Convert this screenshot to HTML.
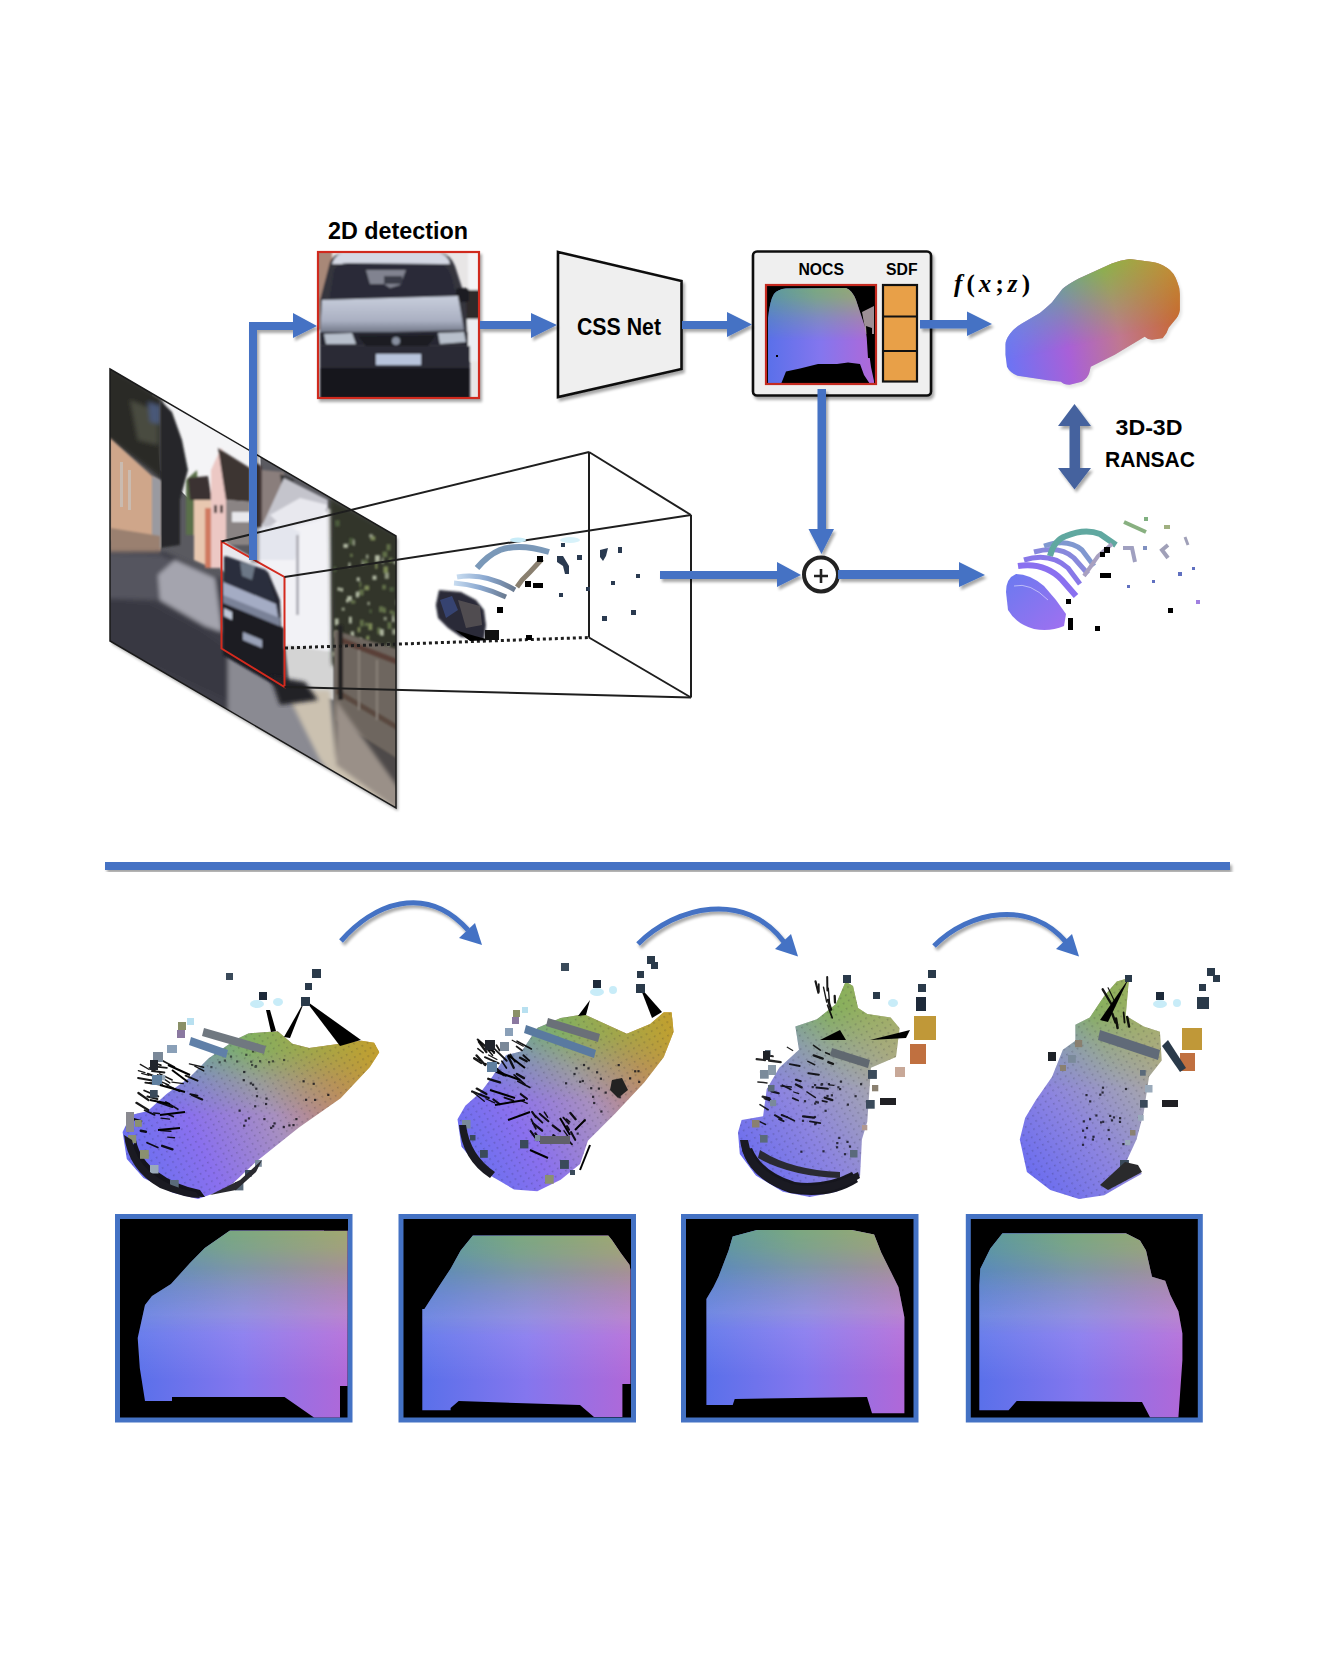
<!DOCTYPE html>
<html><head><meta charset="utf-8">
<style>
html,body{margin:0;padding:0;background:#fff;}
body{width:1336px;height:1670px;overflow:hidden;position:relative;}
svg{position:absolute;left:0;top:0;display:block;}
text{font-family:"Liberation Sans",sans-serif;font-weight:bold;fill:#000;}
</style></head><body>
<svg width="1336" height="1670" viewBox="0 0 1336 1670">
<defs>
  <filter id="sh" x="-20%" y="-20%" width="140%" height="140%">
    <feGaussianBlur in="SourceAlpha" stdDeviation="1.5"/>
    <feOffset dx="2" dy="3" result="b"/>
    <feComponentTransfer><feFuncA type="linear" slope="0.35"/></feComponentTransfer>
    <feMerge><feMergeNode/><feMergeNode in="SourceGraphic"/></feMerge>
  </filter>
  <filter id="blur1"><feGaussianBlur stdDeviation="1"/></filter>
  <filter id="blur2"><feGaussianBlur stdDeviation="2"/></filter>
</defs>


<!-- ===== STREET IMAGE ===== -->
<defs>
  <clipPath id="para"><polygon points="110,369 396,536 396,808 110,641"/></clipPath>
</defs>
<g filter="url(#sh)">
<polygon points="110,369 396,536 396,808 110,641" fill="#888"/>
</g>
<g clip-path="url(#para)">
  <rect x="100" y="360" width="300" height="460" fill="#5a5a60"/>
  <!-- sky -->
  <polygon points="150,375 260,440 262,520 230,520 190,500 160,470" fill="#f4f4f6"/>
  <g filter="url(#blur2)">
  <!-- top-left dark foliage -->
  <polygon points="100,360 162,398 162,480 150,470 110,440 100,440" fill="#2c2a28"/>
  <polygon points="130,400 158,412 158,445 138,440" fill="#4a4c40"/>
  <polygon points="148,402 160,406 160,424 150,422" fill="#4a5878"/>
  </g>
  <!-- tall dark tree -->
  <path d="M160,400 L172,412 L182,440 L188,470 L180,500 L180,545 L160,548 Z" fill="#26282a" filter="url(#blur1)"/>
  <!-- tan wall -->
  <polygon points="110,438 152,476 160,482 160,552 110,540" fill="#cfa68a" filter="url(#blur1)"/>
  <polygon points="152,476 161,480 161,548 152,548" fill="#9a9aa0" filter="url(#blur1)"/>
  <rect x="120" y="462" width="3" height="45" fill="#c8c4c0" opacity="0.7"/>
  <rect x="128" y="470" width="3" height="40" fill="#c8c4c0" opacity="0.7"/>
  <polygon points="110,528 160,536 160,556 110,556" fill="#9a8070" filter="url(#blur1)"/>
  <!-- small trees/house middle -->
  <g filter="url(#blur1)">
  <polygon points="186,480 197,470 200,535 186,535" fill="#5a7048"/>
  <polygon points="188,478 208,476 212,500 190,500" fill="#3a3230"/>
  <polygon points="194,500 212,500 212,568 194,560" fill="#e8c8b0"/>
  <rect x="205" y="508" width="7" height="60" fill="#d07a60"/>
  <!-- pink house -->
  <polygon points="211,470 221,448 226,455 226,568 211,568" fill="#ecc8c4"/>
  <polygon points="218,448 250,468 250,502 226,500" fill="#3c3432"/>
  <polygon points="226,500 250,502 250,545 226,545" fill="#8a8484"/>
  <rect x="232" y="512" width="18" height="10" fill="#e8e8ec"/>
  <rect x="214" y="505" width="3" height="8" fill="#3a3030"/>
  <rect x="220" y="505" width="3" height="8" fill="#3a3030"/>
  </g>
  <!-- white building right -->
  <g filter="url(#blur1)">
  <polygon points="255,470 332,510 332,665 255,640" fill="#f2f2f6"/>
  <polygon points="254,462 262,466 262,528 254,528" fill="#4a3e3c"/>
  <polygon points="262,470 284,472 284,520 262,524" fill="#8a7e7c"/>
  <polygon points="280,474 294,480 292,488 282,486" fill="#2a2a2c"/>
  <polygon points="284,478 328,500 328,512 300,505 268,528 262,526" fill="#c4c4cc"/>
  <polygon points="270,515 300,498 328,505 320,520 286,530" fill="#e8e8ee"/>
  <polygon points="257,528 285,524 300,532 295,560 258,560" fill="#e4e6ee"/>
  <rect x="296" y="535" width="3" height="80" fill="#b0b0b8"/>
  <polygon points="285,645 334,652 334,700 290,690" fill="#d4d4d4"/>
  </g>
  <!-- trees right -->
  <g filter="url(#blur2)">
  <polygon points="330,498 400,536 400,680 332,665" fill="#33362c"/>
  </g>
  <g opacity="0.85" filter="url(#blur1)"><rect x="347.2" y="596.0" width="4.7" height="4.9" fill="#c8d0b8"/><rect x="369.2" y="609.3" width="2.8" height="3.9" fill="#506040"/><rect x="395.7" y="599.7" width="3.4" height="5.6" fill="#a0a890"/><rect x="341.6" y="607.6" width="3.2" height="3.1" fill="#a0a890"/><rect x="381.7" y="557.8" width="2.1" height="6.1" fill="#a0a890"/><rect x="384.7" y="572.4" width="4.2" height="6.5" fill="#a0a890"/><rect x="377.7" y="650.2" width="4.2" height="5.3" fill="#506040"/><rect x="393.7" y="560.5" width="2.3" height="3.5" fill="#c8d0b8"/><rect x="345.9" y="655.1" width="4.3" height="6.4" fill="#506040"/><rect x="359.0" y="637.7" width="3.1" height="5.3" fill="#a0a890"/><rect x="369.4" y="647.7" width="4.6" height="7.0" fill="#6a7a50"/><rect x="375.0" y="555.2" width="4.9" height="6.6" fill="#c8d0b8"/><rect x="368.4" y="623.1" width="3.9" height="7.0" fill="#8a9a60"/><rect x="349.1" y="537.9" width="4.6" height="7.0" fill="#506040"/><rect x="337.7" y="630.9" width="4.7" height="3.1" fill="#506040"/><rect x="359.3" y="581.7" width="2.1" height="5.5" fill="#6a7a50"/><rect x="334.9" y="618.5" width="3.7" height="6.7" fill="#c8d0b8"/><rect x="349.9" y="553.7" width="2.9" height="3.3" fill="#6a7a50"/><rect x="370.4" y="536.2" width="4.9" height="4.2" fill="#8a9a60"/><rect x="348.9" y="616.7" width="2.9" height="6.8" fill="#c8d0b8"/><rect x="389.4" y="587.0" width="4.6" height="4.5" fill="#506040"/><rect x="387.5" y="622.2" width="3.9" height="6.8" fill="#6a7a50"/><rect x="364.4" y="585.5" width="4.8" height="4.7" fill="#8a9a60"/><rect x="348.5" y="562.6" width="2.0" height="4.7" fill="#c8d0b8"/><rect x="369.1" y="534.1" width="3.8" height="3.5" fill="#a0a890"/><rect x="372.5" y="575.5" width="4.0" height="4.4" fill="#c8d0b8"/><rect x="377.2" y="627.5" width="3.8" height="6.8" fill="#6a7a50"/><rect x="333.4" y="566.5" width="2.9" height="5.4" fill="#506040"/><rect x="343.4" y="543.8" width="4.5" height="4.1" fill="#c8d0b8"/><rect x="382.4" y="551.5" width="4.9" height="5.7" fill="#6a7a50"/><rect x="340.4" y="587.9" width="2.7" height="3.7" fill="#c8d0b8"/><rect x="359.9" y="619.7" width="3.8" height="6.8" fill="#6a7a50"/><rect x="375.2" y="562.9" width="2.2" height="6.0" fill="#8a9a60"/><rect x="346.0" y="599.0" width="2.7" height="3.5" fill="#c8d0b8"/><rect x="365.9" y="554.6" width="2.6" height="4.1" fill="#a0a890"/><rect x="383.7" y="616.9" width="3.0" height="3.5" fill="#a0a890"/><rect x="350.7" y="631.4" width="3.4" height="5.5" fill="#c8d0b8"/><rect x="350.6" y="600.1" width="4.8" height="3.6" fill="#6a7a50"/><rect x="332.3" y="651.6" width="5.0" height="4.7" fill="#a0a890"/><rect x="392.8" y="651.6" width="2.1" height="4.8" fill="#8a9a60"/><rect x="380.2" y="629.2" width="3.6" height="6.6" fill="#c8d0b8"/><rect x="387.1" y="643.2" width="2.4" height="4.0" fill="#c8d0b8"/><rect x="334.2" y="630.9" width="4.8" height="6.6" fill="#a0a890"/><rect x="389.6" y="610.4" width="3.4" height="3.5" fill="#6a7a50"/><rect x="364.2" y="560.2" width="3.6" height="4.7" fill="#6a7a50"/><rect x="392.1" y="615.1" width="2.4" height="6.9" fill="#c8d0b8"/><rect x="366.6" y="635.5" width="3.1" height="3.8" fill="#6a7a50"/><rect x="366.2" y="636.2" width="2.7" height="4.1" fill="#8a9a60"/><rect x="388.9" y="557.5" width="3.5" height="5.3" fill="#6a7a50"/><rect x="357.6" y="627.2" width="2.8" height="5.1" fill="#8a9a60"/><rect x="359.1" y="589.4" width="4.6" height="6.1" fill="#6a7a50"/><rect x="335.0" y="520.1" width="4.9" height="6.4" fill="#506040"/><rect x="337.5" y="587.4" width="2.5" height="3.3" fill="#c8d0b8"/><rect x="356.7" y="577.4" width="3.1" height="3.8" fill="#c8d0b8"/><rect x="353.0" y="539.7" width="2.0" height="5.9" fill="#a0a890"/><rect x="382.9" y="607.6" width="3.1" height="5.4" fill="#6a7a50"/><rect x="382.1" y="584.8" width="3.9" height="4.7" fill="#6a7a50"/><rect x="355.8" y="591.6" width="3.3" height="5.8" fill="#c8d0b8"/><rect x="361.5" y="559.8" width="2.8" height="5.4" fill="#a0a890"/><rect x="383.4" y="566.4" width="4.6" height="6.7" fill="#8a9a60"/><rect x="356.0" y="646.1" width="2.4" height="5.8" fill="#c8d0b8"/><rect x="392.1" y="628.9" width="4.4" height="5.7" fill="#a0a890"/><rect x="379.0" y="606.3" width="4.4" height="5.9" fill="#6a7a50"/><rect x="362.3" y="559.0" width="2.1" height="3.4" fill="#506040"/><rect x="338.4" y="642.6" width="4.5" height="4.4" fill="#8a9a60"/><rect x="386.5" y="544.1" width="4.0" height="6.3" fill="#6a7a50"/><rect x="393.0" y="611.4" width="2.1" height="6.1" fill="#6a7a50"/><rect x="364.7" y="622.7" width="3.7" height="3.4" fill="#6a7a50"/><rect x="367.4" y="601.8" width="2.5" height="3.3" fill="#a0a890"/><rect x="395.9" y="619.7" width="3.8" height="6.0" fill="#506040"/></g>
  <!-- fence -->
  <g filter="url(#blur1)">
  <polygon points="334,630 400,650 400,808 334,760" fill="#6e665e"/>
  <polygon points="338,636 400,660 400,666 338,642" fill="#5a4038"/>
  <polygon points="336,688 400,726 400,732 336,694" fill="#5a4a40"/>
  <polygon points="336,720 400,760 400,808 336,770" fill="#4e4a48"/>
  <rect x="338" y="625" width="5" height="75" fill="#222"/>
  <rect x="358" y="650" width="2" height="60" fill="#888078"/>
  <rect x="376" y="660" width="2" height="60" fill="#888078"/>
  </g>
  <!-- road -->
  <g filter="url(#blur2)">
  <polygon points="100,552 165,552 220,578 230,600 250,660 290,700 340,760 380,812 100,650" fill="#3c3c46"/>
  <polygon points="100,553 160,555 200,572 215,580 160,600 100,598" fill="#55555e"/>
  <polygon points="158,575 175,560 215,578 222,632 205,626 160,600" fill="#a4a4ae"/>
  <polygon points="228,655 284,690 320,740 360,812 270,812 228,760" fill="#8a8a92"/>
  <polygon points="100,600 150,604 200,630 228,650 228,700 100,640" fill="#383842"/>
  </g>
  <!-- sidewalk -->
  <g filter="url(#blur2)">
  <polygon points="285,690 330,690 336,760 400,808 360,812 320,760 296,712" fill="#cbc1b0"/>
  <polygon points="336,700 336,765 400,812 400,790" fill="#9a9088"/>
  </g>
  <!-- car -->
  <polygon points="221,540 285,576 285,600 221,570" fill="#e8e8ee" filter="url(#blur1)"/>
  <g filter="url(#blur1)">
  <polygon points="224,556 268,572 280,600 284,690 224,655" fill="#262832"/>
  <polygon points="226,556 266,570 276,602 225,584" fill="#2a2e3c"/>
  <polygon points="240,562 255,566 252,580 242,576" fill="#9aa8b8" opacity="0.6"/>
  <polygon points="223,582 276,604 280,628 223,603" fill="#a4acc4"/>
  <polygon points="223,595 280,618 280,628 223,603" fill="#7a8298"/>
  <polygon points="223,603 284,628 284,690 223,655" fill="#1a1a24"/>
  <polygon points="243,632 262,640 262,648 243,640" fill="#9aa2b8"/>
  <polygon points="224,608 232,612 232,620 224,616" fill="#c0c8d8"/>
  </g>
  <polygon points="270,676 305,682 318,700 280,705" fill="#202028" filter="url(#blur2)"/>
</g>
<polygon points="110,369 396,536 396,808 110,641" fill="none" stroke="#1a1a1a" stroke-width="1.5"/>
<!-- red box on street -->
<polygon points="221.5,541.5 284.5,577 284.5,687 221.5,648.5" fill="none" stroke="#d42a1e" stroke-width="2"/>
<!-- frustum lines -->
<g stroke="#1e1e1e" stroke-width="2" fill="none">
  <line x1="221.5" y1="541.5" x2="589" y2="452"/>
  <line x1="284.5" y1="577" x2="691" y2="515"/>
  <line x1="284.5" y1="687" x2="691" y2="697.5"/>
  <line x1="589" y1="452" x2="691" y2="515"/>
  <line x1="589" y1="452" x2="589" y2="637.5"/>
  <line x1="691" y1="515" x2="691" y2="697.5"/>
  <line x1="589" y1="637.5" x2="691" y2="697.5"/>
  <line x1="285" y1="648" x2="589" y2="637.5" stroke-dasharray="3,3" stroke-width="3"/>
</g>

<!-- ===== TOP DIAGRAM ===== -->

<!-- ===== point cloud in 3D box ===== -->
<g id="pcbox">
  <defs>
    <linearGradient id="arcg" x1="0" y1="0" x2="1" y2="0">
      <stop offset="0" stop-color="#c8dcf0"/><stop offset="0.5" stop-color="#8aa8d0"/><stop offset="1" stop-color="#6a7a90"/>
    </linearGradient>
  </defs>
  <!-- dark car chunk -->
  <path d="M439,590 L461,592 L476,600 L484,610 L486,625 L484,640 L461,637 L448,628 L438,618 L435.8,605 Z" fill="#2a2c38" filter="url(#blur1)"/>
  <path d="M440,600 L452,596 L458,610 L446,618 Z" fill="#3a4a80" opacity="0.8"/>
  <path d="M458,600 L480,606 L482,625 L466,628 Z" fill="#6a6460" opacity="0.6"/>
  <path d="M455,630 L475,636 L490,640 L470,641 Z" fill="#000"/>
  <rect x="485" y="630" width="14" height="10" fill="#111"/>
  <!-- arcs -->
  <g fill="none" stroke="url(#arcg)" stroke-width="5">
    <path d="M454,583 Q480,585 506,597"/>
    <path d="M457,577 Q485,572 515,590"/>
  </g>
  <path d="M477,568 Q488,555 500,550 Q520,543 549,552" fill="none" stroke="#7a98b8" stroke-width="6"/>
  <path d="M542,559 L530,572 L522,580 L517,587" fill="none" stroke="#8a8070" stroke-width="5"/>
  <ellipse cx="518" cy="540" rx="8" ry="2.5" fill="#c8ecf8"/>
  <ellipse cx="570" cy="540" rx="10" ry="3" fill="#d8f2fa"/>
  <g fill="#000">
    <rect x="537" y="556" width="6" height="6"/>
    <rect x="525" y="581" width="6" height="6"/>
    <rect x="533" y="583" width="10" height="5"/>
    <rect x="497" y="607" width="6" height="6"/>
    <rect x="526" y="635" width="6" height="5"/>
  </g>
  <g fill="#2a3a50">
    <rect x="561" y="543" width="4" height="4"/>
    <rect x="577" y="555" width="5" height="5"/>
    <path d="M557,556 L563,556 L569,566 L569,574 L565,574 L563,566 L557,562 Z"/>
    <rect x="559" y="593" width="4" height="4"/>
    <path d="M600,550 L608,548 L606,556 L603,561 L600,557 Z"/>
    <rect x="618" y="547" width="4" height="6"/>
    <rect x="611" y="581" width="4" height="4"/>
    <rect x="636" y="574" width="4" height="4"/>
    <rect x="586" y="587" width="4" height="4"/>
    <rect x="602" y="616" width="5" height="5"/>
    <rect x="631" y="610" width="5" height="5"/>
  </g>
</g>
<!-- ===== right point cloud ===== -->
<defs>
  <linearGradient id="pcr" x1="0" y1="1" x2="1" y2="0">
    <stop offset="0" stop-color="#8058f0"/><stop offset="0.4" stop-color="#7a90d8"/><stop offset="0.7" stop-color="#60a8a0"/><stop offset="1" stop-color="#80b070"/>
  </linearGradient>
</defs>
<g id="pcright" fill="none" stroke-linecap="butt">
  <path d="M1006,592 Q1006,578 1016,574 Q1030,574 1044,586 L1056,600 L1066,614 L1064,626 Q1050,632 1034,629 Q1016,624 1008,610 Z" fill="url(#pcblob)" stroke="none"/>
  <path d="M1018,566 Q1045,562 1062,580 L1076,596" stroke="#8a70f0" stroke-width="6"/>
  <path d="M1024,560 Q1050,552 1068,568 L1080,584" stroke="#8878e8" stroke-width="5"/>
  <path d="M1034,552 Q1060,545 1074,558 L1088,574" stroke="#8888dc" stroke-width="5"/>
  <path d="M1044,546 Q1068,538 1082,550 L1094,566" stroke="#8098d0" stroke-width="5"/>
  <path d="M1050,556 Q1054,540 1066,536 Q1085,528 1100,534 L1116,545" stroke="#60a8a0" stroke-width="6"/>
  <path d="M1084,576 L1098,556 L1112,544" stroke="#a8a0c0" stroke-width="4"/>
  <path d="M1124,522 L1146,532" stroke="#88b080" stroke-width="4"/>
  <path d="M1123,548 L1132,548 L1135,562" stroke="#a0a0c0" stroke-width="4"/>
  <path d="M1168,545 L1162,550 L1168,558" stroke="#a0a0b8" stroke-width="4"/>
  <path d="M1185,537 L1188,545" stroke="#a0a0b8" stroke-width="3"/>
</g>
<defs>
  <linearGradient id="pcblob" x1="0" y1="0" x2="1" y2="1">
    <stop offset="0" stop-color="#6a7af0"/><stop offset="1" stop-color="#a070f0"/>
  </linearGradient>
</defs>
<g stroke="#fff" stroke-width="1" opacity="0.5" fill="none">
  <path d="M1014,586 Q1030,582 1048,600"/>
</g>
<g>
  <rect x="1144" y="517" width="4" height="4" fill="#80b080"/>
  <rect x="1164" y="525" width="6" height="4" fill="#a0b080"/>
  <rect x="1104" y="547" width="6" height="6" fill="#000"/>
  <rect x="1100" y="552" width="5" height="5" fill="#000"/>
  <rect x="1100" y="573" width="6" height="5" fill="#000"/>
  <rect x="1102" y="573" width="9" height="5" fill="#000"/>
  <rect x="1066" y="599" width="5" height="5" fill="#000"/>
  <rect x="1068" y="618" width="5" height="12" fill="#000"/>
  <rect x="1095" y="626" width="5" height="5" fill="#000"/>
  <rect x="1168" y="608" width="5" height="5" fill="#000"/>
  <rect x="1143" y="546" width="4" height="4" fill="#8090c0"/>
  <rect x="1178" y="572" width="4" height="4" fill="#6070c0"/>
  <rect x="1152" y="580" width="3" height="3" fill="#6070c0"/>
  <rect x="1127" y="585" width="3" height="3" fill="#6070c0"/>
  <rect x="1192" y="567" width="3" height="3" fill="#6070c0"/>
  <rect x="1196" y="600" width="4" height="4" fill="#a080e0"/>
</g>


<!-- 2D detection text -->
<text x="328" y="239" font-size="23" textLength="140" lengthAdjust="spacingAndGlyphs">2D detection</text>
<!-- detection image -->
<defs><clipPath id="detc"><rect x="318" y="252" width="161" height="146"/></clipPath>
<linearGradient id="hoodg" x1="0" y1="0" x2="0" y2="1"><stop offset="0" stop-color="#c8cedc"/><stop offset="0.65" stop-color="#aab0c2"/><stop offset="1" stop-color="#6a7080"/></linearGradient>
</defs>
<g filter="url(#sh)"><rect x="317" y="251" width="163" height="148" fill="#c02a20"/></g>
<g clip-path="url(#detc)">
  <rect x="318" y="252" width="161" height="146" fill="#e8e6e6"/>
  <g filter="url(#blur1)">
  <rect x="316" y="250" width="16" height="80" fill="#a88878"/>
  <rect x="466" y="289" width="14" height="30" fill="#2e2a2c"/><rect x="466" y="319" width="14" height="42" fill="#eceef2"/>
  <rect x="468" y="250" width="12" height="40" fill="#f4f4f6"/>
  <!-- car body silhouette -->
  <path d="M320,398 L320,300 L330,262 Q334,253 345,253 L440,253 Q450,254 455,266 L466,300 L470,398 Z" fill="#34363e"/>
  <!-- roof strip -->
  <path d="M332,264 Q336,252 348,252 L436,252 Q448,254 450,264 Z" fill="#d4d8e4"/>
  <!-- windshield -->
  <path d="M329,301 L334,270 Q338,263 348,263 L440,264 Q448,265 452,278 L457,299 Z" fill="#2a2c38"/>
  <path d="M366,270 L370,284 L384,284 L390,288 L400,285 L406,270 Z" fill="#c8ccd8" opacity="0.55"/><rect x="384" y="276" width="18" height="8" fill="#3a3c48"/>
  <rect x="456" y="288" width="13" height="14" rx="3" fill="#1e1e24"/>
  <!-- hood -->
  <path d="M322,300 L458,296 L464,330 L320,334 Z" fill="url(#hoodg)"/>
  <!-- headlights row -->
  <rect x="320" y="332" width="148" height="13" fill="#262830"/>
  <path d="M324,334 L352,333 L356,344 L326,344 Z" fill="#b8c0cc"/>
  <path d="M438,333 L464,332 L466,342 L440,344 Z" fill="#b8c0cc"/>
  <path d="M358,336 L436,335 L428,346 L366,346 Z" fill="#1a1c22"/>
  <circle cx="396" cy="341" r="4" fill="#8890a0"/>
  <!-- lower -->
  <rect x="320" y="346" width="150" height="22" fill="#2a2c34"/>
  <rect x="376" y="354" width="45" height="11" fill="#b8c4dc"/>
  <rect x="320" y="368" width="150" height="32" fill="#14141a"/>
  </g>
</g>
<rect x="318" y="252" width="161" height="146" fill="none" stroke="#d02a1e" stroke-width="2.2"/>

<!-- CSS Net -->
<g filter="url(#sh)">
<polygon points="558,252 681.5,281 681.5,369 558,397" fill="#efefef" stroke="#111" stroke-width="2.6" stroke-linejoin="miter"/>
</g>
<text x="577" y="334.5" font-size="23" textLength="84" lengthAdjust="spacingAndGlyphs">CSS Net</text>

<!-- NOCS box -->
<defs>
  <linearGradient id="nocsV" x1="0" y1="0" x2="0" y2="1">
    <stop offset="0" stop-color="#8fb080"/><stop offset="0.5" stop-color="#7f80e0"/><stop offset="1" stop-color="#7060e8"/>
  </linearGradient>
  <linearGradient id="nocsH" x1="0" y1="0" x2="1" y2="0">
    <stop offset="0" stop-color="#5070e0" stop-opacity="0.5"/><stop offset="0.5" stop-color="#8080e0" stop-opacity="0"/><stop offset="1" stop-color="#c070c0" stop-opacity="0.5"/>
  </linearGradient>
</defs>
<g filter="url(#sh)">
<rect x="753" y="251.5" width="178" height="144" rx="4" fill="#efefef" stroke="#111" stroke-width="2.6"/>
</g>
<text x="798.5" y="274.5" font-size="16" textLength="45.5" lengthAdjust="spacingAndGlyphs">NOCS</text>
<text x="886" y="274.5" font-size="16" textLength="31.5" lengthAdjust="spacingAndGlyphs">SDF</text>
<g>
  <rect x="766" y="285" width="110" height="99" fill="#000"/>
  <defs><path id="nocsp" d="M768,384 L768,318 Q770,300 774,294 Q778,289 786,288.5 L846,288 Q852,290 856,300 L860,312 L866,330 L868,345 L871,367 L874,381 L874,384 L870,384 L864,375 L860,364 L848,362.5 L837,364 L818,364 L800,368.5 L786,371.5 L781,384 Z"/></defs>
  <use href="#nocsp" fill="url(#nV)"/>
  <use href="#nocsp" fill="url(#nH)" mask="url(#nmask)"/>
  <path d="M862,312 L874,306 L874,334 L866,334 Z" fill="#b8a8b0" opacity="0.85"/>
  <path d="M866,326 L872,328 L872,358 L868,358 Z" fill="#000"/>
  <rect x="776" y="355" width="2" height="2" fill="#000"/>
  <rect x="766" y="285" width="110" height="99" fill="none" stroke="#c42a20" stroke-width="2.2"/>
</g>
<g stroke="#111" stroke-width="2.2">
  <rect x="883" y="285" width="34" height="96.5" fill="#e8a048"/>
  <line x1="883" y1="316.5" x2="917" y2="316.5"/>
  <line x1="883" y1="351" x2="917" y2="351"/>
</g>

<!-- f(x;z) -->
<text x="954" y="292" font-size="25" style="font-family:'Liberation Serif',serif;font-weight:bold" textLength="76" lengthAdjust="spacing"><tspan font-style="italic">f</tspan><tspan>(</tspan><tspan font-style="italic">x</tspan><tspan>;</tspan><tspan font-style="italic">z</tspan><tspan>)</tspan></text>

<!-- car model -->
<defs>
  <linearGradient id="vfade" x1="0" y1="0" x2="0" y2="1">
    <stop offset="0" stop-color="#fff"/><stop offset="1" stop-color="#000"/>
  </linearGradient>
  <mask id="mcar" maskUnits="userSpaceOnUse" x="995" y="250" width="200" height="145">
    <rect x="995" y="250" width="200" height="145" fill="url(#carfade)"/>
  </mask>
  <linearGradient id="carfade" gradientUnits="userSpaceOnUse" x1="1100" y1="262" x2="1120" y2="350">
    <stop offset="0" stop-color="#fff"/><stop offset="0.3" stop-color="#aaa"/><stop offset="0.85" stop-color="#000"/>
  </linearGradient>
  <linearGradient id="carBot" gradientUnits="userSpaceOnUse" x1="1005" y1="350" x2="1180" y2="320">
    <stop offset="0" stop-color="#6c74f4"/><stop offset="0.35" stop-color="#a860d8"/><stop offset="0.65" stop-color="#c07890"/><stop offset="1" stop-color="#c86830"/>
  </linearGradient>
  <linearGradient id="carTop" gradientUnits="userSpaceOnUse" x1="1010" y1="330" x2="1180" y2="280">
    <stop offset="0" stop-color="#6890e0"/><stop offset="0.3" stop-color="#60a898"/><stop offset="0.6" stop-color="#88b448"/><stop offset="1" stop-color="#c09838"/>
  </linearGradient>
  <path id="carp" d="M1005.5,354.8 L1007,366.8 Q1010,373 1017.5,375.7 L1047.4,380.2 L1060.9,381.7 Q1064,385 1069.9,384.7 L1081.8,381.7 Q1088,378 1089.3,372.8 L1090.8,366.8 L1114.8,354.8 L1144.7,336.8 Q1148,340 1152.2,339.8 L1162.7,338.3 Q1167,334 1168.7,327.8 L1174.6,320.4 Q1179,316 1179.9,309.9 L1179.9,294.9 Q1180,288 1177.6,282.9 Q1174,272 1167.2,268 Q1160,263 1152.2,262 L1129.7,259 Q1120,260 1111.8,263.5 L1078.8,278.4 Q1068,284 1062.4,288.9 L1051.9,302.4 Q1046,308 1039.9,312.9 L1021.9,323.4 Q1014,328 1010,333.8 Q1005.5,340 1005.5,344.3 Z"/>
</defs>
<g filter="url(#sh)"><use href="#carp" fill="#888" opacity="0.3"/></g>
<use href="#carp" fill="url(#carBot)"/>
<use href="#carp" fill="url(#carTop)" mask="url(#mcar)"/>
<!-- double arrow -->
<path fill="#44629e" filter="url(#sh)" d="M1074.5,404 L1091,426 L1080,426 L1080,468 L1091,468 L1074.5,489.5 L1058,468 L1069.5,468 L1069.5,426 L1058,426 Z"/>
<text x="1115.5" y="435" font-size="22" textLength="67" lengthAdjust="spacingAndGlyphs">3D-3D</text>
<text x="1105" y="466.5" font-size="22" textLength="90" lengthAdjust="spacingAndGlyphs">RANSAC</text>

<!-- plus circle -->
<circle cx="821" cy="574.5" r="17" fill="#fff" stroke="#222" stroke-width="4"/>
<path d="M814,576 L828,576 M821,569 L821,583" stroke="#222" stroke-width="2.6"/>

<g id="arrows" fill="#4472C4" filter="url(#sh)">
  <!-- vertical line from street image to detection -->
  <path d="M249,560 L249,322 L293,322 L293,313 L317,326 L293,338 L293,330 L257,330 L257,560 Z"/>
  <!-- detection -> CSS -->
  <path d="M480,321 L531,321 L531,313 L557,325 L531,338 L531,329 L480,329 Z"/>
  <!-- CSS -> NOCS -->
  <path d="M682,321 L727,321 L727,312 L752,324.5 L727,337 L727,329 L682,329 Z"/>
  <!-- NOCS -> car -->
  <path d="M920,320 L967,320 L967,311.5 L992,324 L967,336 L967,328.5 L920,328.5 Z"/>
  <!-- down from NOCS -->
  <path d="M817.5,389 L826,389 L826,529 L834,529 L821.5,554 L808.5,529 L817.5,529 Z"/>
  <!-- box -> plus -->
  <path d="M660,571 L777,571 L777,562 L801,575 L777,587 L777,579 L660,579 Z"/>
  <!-- plus -> cloud -->
  <path d="M838,570 L959,570 L959,562 L985,575 L959,587 L959,579 L838,579 Z"/>
</g>


<!-- ===== POINT CLOUDS (bottom) ===== -->
<defs>
  <linearGradient id="cfade" x1="0" y1="0" x2="0" y2="1">
    <stop offset="0" stop-color="#fff"/><stop offset="0.12" stop-color="#eee"/><stop offset="0.3" stop-color="#666"/><stop offset="0.5" stop-color="#000"/>
  </linearGradient>
  <mask id="cmask" maskContentUnits="objectBoundingBox"><rect x="0" y="0" width="1" height="1" fill="url(#cfade)"/></mask>
  <linearGradient id="c1b" gradientUnits="userSpaceOnUse" x1="135" y1="1160" x2="375" y2="1050">
    <stop offset="0" stop-color="#6c70f0"/><stop offset="0.25" stop-color="#8a70ee"/><stop offset="0.55" stop-color="#a890c0"/><stop offset="0.8" stop-color="#c08868"/><stop offset="1" stop-color="#c89830"/>
  </linearGradient>
  <linearGradient id="c1t" gradientUnits="userSpaceOnUse" x1="160" y1="1100" x2="375" y2="1050">
    <stop offset="0" stop-color="#6098c8"/><stop offset="0.45" stop-color="#80b060"/><stop offset="1" stop-color="#c0a030"/>
  </linearGradient>
  <linearGradient id="c2b" gradientUnits="userSpaceOnUse" x1="465" y1="1150" x2="672" y2="1030">
    <stop offset="0" stop-color="#6c70f0"/><stop offset="0.25" stop-color="#8a70ee"/><stop offset="0.55" stop-color="#a890c0"/><stop offset="0.8" stop-color="#c08868"/><stop offset="1" stop-color="#c89830"/>
  </linearGradient>
  <linearGradient id="c2t" gradientUnits="userSpaceOnUse" x1="490" y1="1090" x2="672" y2="1030">
    <stop offset="0" stop-color="#6098c8"/><stop offset="0.45" stop-color="#80b060"/><stop offset="1" stop-color="#c0a030"/>
  </linearGradient>
  <linearGradient id="c3b" gradientUnits="userSpaceOnUse" x1="745" y1="1170" x2="895" y2="1060">
    <stop offset="0" stop-color="#6a6cf0"/><stop offset="0.4" stop-color="#8c84e0"/><stop offset="0.75" stop-color="#a0a0b8"/><stop offset="1" stop-color="#b0a890"/>
  </linearGradient>
  <linearGradient id="c3t" gradientUnits="userSpaceOnUse" x1="770" y1="1060" x2="900" y2="1030">
    <stop offset="0" stop-color="#70a0a8"/><stop offset="0.5" stop-color="#80b058"/><stop offset="1" stop-color="#a0b060"/>
  </linearGradient>
  <linearGradient id="c4b" gradientUnits="userSpaceOnUse" x1="1025" y1="1175" x2="1160" y2="1060">
    <stop offset="0" stop-color="#6a6cf0"/><stop offset="0.4" stop-color="#8c84e0"/><stop offset="0.75" stop-color="#a0a0b8"/><stop offset="1" stop-color="#b0a890"/>
  </linearGradient>
  <linearGradient id="c4t" gradientUnits="userSpaceOnUse" x1="1050" y1="1070" x2="1160" y2="1030">
    <stop offset="0" stop-color="#6a9ab0"/><stop offset="0.5" stop-color="#80b058"/><stop offset="1" stop-color="#a0b060"/>
  </linearGradient>
  <clipPath id="cc1"><use href="#c1"/></clipPath><clipPath id="cc2"><use href="#c2"/></clipPath><clipPath id="cc3"><use href="#c3"/></clipPath><clipPath id="cc4"><use href="#c4"/></clipPath>
  <pattern id="dots" width="6" height="6" patternUnits="userSpaceOnUse" patternTransform="rotate(-30)">
    <rect x="0" y="0" width="1.6" height="1.6" fill="#1a1a2a" opacity="0.22"/>
  </pattern>
<path id="c1" d="M122.6,1131.9 L126.8,1159.1 L143.5,1178 L172.9,1192.7 L198,1199 L227.4,1188.5 L256.7,1161.2 L298.6,1127.7 L340.6,1098.3 L369.9,1066.9 L379.3,1052.2 L374.1,1042.8 L361.5,1040.7 L309.1,1048 L292.4,1043.8 L277.7,1031.3 L248.3,1033.4 L235.8,1039.6 L208.5,1058.5 L189.6,1077.4 L166.6,1094.1 L147.7,1110.9 L131,1115.1 Z"/>
  <path id="c2" d="M457.5,1119.3 L461.4,1146.6 L480.9,1170 L514,1189.4 L537.3,1191.3 L560.7,1179.7 L580.1,1164.1 L587.9,1140.7 L615.2,1113.5 L644.4,1082.3 L663.8,1057 L673.6,1031.7 L671.6,1012.3 L663.8,1012.3 L650.2,1024 L626.8,1033.7 L605.4,1024 L584,1014.2 L560.7,1018.1 L537.3,1027.9 L521.7,1051.2 L506.2,1055.1 L492.5,1076.5 L480.9,1092.1 L465.3,1105.7 Z"/>
  <path id="c3" d="M738,1132.4 L739.8,1154 L755.9,1175.6 L782.9,1191.7 L809.8,1197.1 L836.8,1191.7 L860.1,1175.6 L861.9,1139.6 L867.3,1121.7 L870.9,1067.8 L896,1057 L899.6,1028.3 L890.6,1017.5 L867.3,1013.9 L858,1008 L853,986 L845.7,981.6 L836,1004 L817,1019.3 L795.4,1026.5 L799,1049.8 L779.3,1067.8 L766.7,1089.3 L763.1,1116.3 L741.6,1119.9 Z"/>
  <path id="c4" d="M1019.8,1139.6 L1026.9,1172 L1050.3,1189.9 L1079,1198.9 L1104.2,1195.3 L1125.7,1182.7 L1142,1173.8 L1125.7,1163 L1136.5,1139.6 L1143.7,1112.7 L1149,1076.8 L1161.7,1060.6 L1159.9,1031.8 L1143.7,1026.5 L1125.7,1015.7 L1129,978 L1116.8,981.6 L1104.2,995.9 L1089.8,1017.5 L1075.4,1024.7 L1075.4,1040.8 L1062.9,1049.8 L1052.1,1076.8 L1035.9,1100.1 L1025.1,1118.1 Z"/>
</defs>
<g id="cloud1">
  <use href="#c1" fill="url(#c1b)"/>
  <use href="#c1" fill="url(#c1t)" mask="url(#cmask)"/>
  <use href="#c1" fill="url(#dots)"/>
  <g stroke="#000" stroke-linecap="round" opacity="0.90"><line x1="164.4" y1="1072.5" x2="152.0" y2="1071.0" stroke-width="1.9"/><line x1="166.9" y1="1067.9" x2="155.9" y2="1066.7" stroke-width="1.8"/><line x1="149.2" y1="1069.5" x2="140.3" y2="1064.4" stroke-width="1.4"/><line x1="158.4" y1="1096.4" x2="144.1" y2="1090.5" stroke-width="1.7"/><line x1="203.6" y1="1067.3" x2="189.4" y2="1063.9" stroke-width="1.4"/><line x1="152.1" y1="1080.4" x2="138.1" y2="1077.9" stroke-width="2.0"/><line x1="183.3" y1="1083.6" x2="171.9" y2="1082.2" stroke-width="1.3"/><line x1="157.4" y1="1099.0" x2="147.4" y2="1096.5" stroke-width="2.0"/><line x1="172.2" y1="1080.0" x2="159.7" y2="1073.9" stroke-width="1.5"/><line x1="179.5" y1="1091.3" x2="166.3" y2="1084.6" stroke-width="1.6"/><line x1="203.8" y1="1070.9" x2="194.8" y2="1066.2" stroke-width="1.4"/><line x1="174.3" y1="1067.0" x2="163.1" y2="1061.0" stroke-width="1.9"/><line x1="197.5" y1="1080.7" x2="185.6" y2="1075.7" stroke-width="2.0"/><line x1="172.4" y1="1107.0" x2="157.8" y2="1101.9" stroke-width="2.1"/><line x1="148.6" y1="1100.1" x2="138.4" y2="1093.0" stroke-width="2.3"/><line x1="162.1" y1="1084.3" x2="149.5" y2="1083.0" stroke-width="1.8"/><line x1="155.1" y1="1070.9" x2="149.3" y2="1067.8" stroke-width="1.4"/><line x1="159.9" y1="1084.5" x2="145.3" y2="1082.6" stroke-width="1.8"/><line x1="178.0" y1="1109.2" x2="165.8" y2="1101.9" stroke-width="1.6"/><line x1="169.9" y1="1082.9" x2="157.6" y2="1074.7" stroke-width="1.4"/><line x1="155.6" y1="1076.6" x2="147.7" y2="1073.8" stroke-width="2.0"/><line x1="160.8" y1="1065.2" x2="151.0" y2="1062.4" stroke-width="1.9"/><line x1="202.2" y1="1099.5" x2="192.0" y2="1095.1" stroke-width="2.1"/><line x1="148.2" y1="1110.0" x2="136.4" y2="1102.8" stroke-width="2.2"/><line x1="168.5" y1="1084.9" x2="162.1" y2="1082.1" stroke-width="1.3"/><line x1="149.0" y1="1075.4" x2="141.7" y2="1073.4" stroke-width="1.3"/><line x1="145.0" y1="1072.6" x2="138.3" y2="1070.6" stroke-width="1.2"/><line x1="197.5" y1="1095.7" x2="190.2" y2="1094.1" stroke-width="1.7"/></g><g stroke="#000" stroke-linecap="round" opacity="0.90"><line x1="154.6" y1="1114.9" x2="144.6" y2="1110.3" stroke-width="1.8"/><line x1="159.4" y1="1113.4" x2="153.7" y2="1112.9" stroke-width="1.5"/><line x1="173.2" y1="1116.5" x2="168.4" y2="1114.4" stroke-width="1.9"/><line x1="145.9" y1="1131.7" x2="140.8" y2="1130.8" stroke-width="2.5"/><line x1="174.5" y1="1137.8" x2="167.7" y2="1137.1" stroke-width="1.4"/><line x1="170.9" y1="1131.3" x2="160.5" y2="1130.4" stroke-width="1.5"/><line x1="172.5" y1="1149.4" x2="162.1" y2="1145.8" stroke-width="2.3"/><line x1="169.6" y1="1119.1" x2="161.0" y2="1118.2" stroke-width="1.2"/><line x1="141.1" y1="1121.2" x2="134.6" y2="1119.3" stroke-width="2.4"/><line x1="157.9" y1="1147.5" x2="147.0" y2="1142.7" stroke-width="1.7"/></g><g clip-path="url(#cc1)"><g fill="#101018" opacity="0.80"><rect x="252.0" y="1083.6" width="2.2" height="2.2"/><rect x="249.7" y="1082.3" width="2.2" height="2.2"/><rect x="292.4" y="1124.0" width="2.2" height="2.2"/><rect x="314.0" y="1098.8" width="2.2" height="2.2"/><rect x="295.3" y="1118.0" width="2.2" height="2.2"/><rect x="238.5" y="1109.6" width="2.2" height="2.2"/><rect x="321.0" y="1116.9" width="2.2" height="2.2"/><rect x="305.0" y="1098.7" width="2.2" height="2.2"/><rect x="247.9" y="1117.3" width="2.2" height="2.2"/><rect x="263.3" y="1118.0" width="2.2" height="2.2"/><rect x="327.2" y="1093.8" width="2.2" height="2.2"/><rect x="270.1" y="1126.8" width="2.2" height="2.2"/><rect x="302.5" y="1080.2" width="2.2" height="2.2"/><rect x="242.7" y="1079.1" width="2.2" height="2.2"/><rect x="320.5" y="1118.4" width="2.2" height="2.2"/><rect x="244.6" y="1119.6" width="2.2" height="2.2"/><rect x="328.0" y="1109.4" width="2.2" height="2.2"/><rect x="265.0" y="1102.9" width="2.2" height="2.2"/><rect x="243.1" y="1070.9" width="2.2" height="2.2"/><rect x="327.1" y="1109.0" width="2.2" height="2.2"/><rect x="282.7" y="1126.0" width="2.2" height="2.2"/><rect x="273.4" y="1122.3" width="2.2" height="2.2"/><rect x="312.6" y="1082.7" width="2.2" height="2.2"/><rect x="255.2" y="1087.6" width="2.2" height="2.2"/><rect x="254.1" y="1105.2" width="2.2" height="2.2"/><rect x="255.9" y="1095.1" width="2.2" height="2.2"/><rect x="243.1" y="1124.6" width="2.2" height="2.2"/><rect x="265.4" y="1097.5" width="2.2" height="2.2"/><rect x="288.3" y="1124.3" width="2.2" height="2.2"/><rect x="272.1" y="1125.1" width="2.2" height="2.2"/></g></g><g clip-path="url(#cc1)"><g fill="#101018" opacity="0.60"><rect x="250.1" y="1060.6" width="2.2" height="2.2"/><rect x="251.9" y="1050.4" width="2.2" height="2.2"/><rect x="245.2" y="1053.7" width="2.2" height="2.2"/><rect x="210.3" y="1066.0" width="2.2" height="2.2"/><rect x="223.8" y="1059.5" width="2.2" height="2.2"/><rect x="268.0" y="1061.1" width="2.2" height="2.2"/><rect x="236.1" y="1060.4" width="2.2" height="2.2"/><rect x="254.4" y="1065.7" width="2.2" height="2.2"/><rect x="218.5" y="1061.2" width="2.2" height="2.2"/><rect x="229.9" y="1055.5" width="2.2" height="2.2"/><rect x="271.8" y="1060.2" width="2.2" height="2.2"/><rect x="254.9" y="1065.2" width="2.2" height="2.2"/><rect x="283.0" y="1058.9" width="2.2" height="2.2"/><rect x="259.0" y="1060.1" width="2.2" height="2.2"/><rect x="251.0" y="1063.9" width="2.2" height="2.2"/></g></g><path d="M130,1150 Q140,1175 165,1188 Q190,1198 205,1197 L200,1190 Q175,1185 158,1172 Q140,1160 136,1140 Z" fill="#14141c"/><rect x="135.0" y="1120.0" width="6.8" height="6.8" fill="#8a9070"/><rect x="128.0" y="1135.0" width="8.2" height="8.2" fill="#8a9070"/><rect x="140.0" y="1150.0" width="8.8" height="8.8" fill="#8a9070"/><rect x="150.0" y="1165.0" width="8.5" height="8.5" fill="#9aaaba"/><rect x="170.0" y="1180.0" width="8.7" height="8.7" fill="#5a6a7a"/><rect x="235.0" y="1182.0" width="8.4" height="8.4" fill="#5a6a7a"/><rect x="245.0" y="1170.0" width="6.7" height="6.7" fill="#3a4a5a"/><rect x="255.0" y="1160.0" width="6.8" height="6.8" fill="#7a8a9a"/><rect x="150.0" y="1090.0" width="7.7" height="7.7" fill="#3a4a5a"/><rect x="160.0" y="1075.0" width="5.3" height="5.3" fill="#9aaaba"/>
  <!-- black edge bottom-left -->
  <path d="M124,1135 Q128,1170 160,1188 Q185,1198 200,1198 L196,1192 Q170,1188 150,1172 Q135,1158 132,1140 Z" fill="#1a1a22"/>
  <path d="M210,1195 L240,1180 L262,1160 L256,1172 L236,1190 Z" fill="#2a2a30"/>
  <!-- black triangles -->
  <polygon points="305,1000 361,1040 340,1046" fill="#000"/>
  <polygon points="305,1000 290,1038 284,1037" fill="#000"/>
  <polygon points="266,1010 270,1010 276,1031 271,1032" fill="#000"/>
  <!-- gray bars -->
  <polygon points="204,1028 266,1046 264,1054 202,1036" fill="#707880"/>
  <polygon points="191,1037 228,1050 226,1058 189,1045" fill="#6080a8"/>
  <!-- squares -->
  <rect x="226" y="973" width="7" height="7" fill="#3a4a5a"/>
  <rect x="312" y="969" width="9" height="9" fill="#2a3a4a"/>
  <rect x="305" y="983" width="7" height="7" fill="#2a3a4a"/>
  <rect x="259" y="992" width="8" height="8" fill="#1e2a3a"/>
  <rect x="301" y="997" width="9" height="9" fill="#2a3a4a"/>
  <ellipse cx="257" cy="1004" rx="7" ry="4" fill="#c8ecf8"/>
  <ellipse cx="278" cy="1002" rx="5" ry="4" fill="#c8ecf8"/>
  <rect x="178" y="1022" width="8" height="8" fill="#8a9068"/>
  <rect x="177" y="1030" width="8" height="8" fill="#8a78a0"/>
  <rect x="187" y="1018" width="7" height="7" fill="#b8e0f0"/>
  <rect x="167" y="1045" width="10" height="8" fill="#8aa0b8"/>
  <rect x="153" y="1052" width="10" height="10" fill="#7a8898"/>
  <rect x="150" y="1060" width="8" height="10" fill="#20242c"/>
  <rect x="152" y="1075" width="10" height="10" fill="#6080a0"/>
  <rect x="126" y="1112" width="8" height="20" fill="#8a8a90"/>
  <g stroke="#000" stroke-width="2">
    <line x1="168" y1="1065" x2="190" y2="1075"/><line x1="172" y1="1070" x2="188" y2="1082"/>
    <line x1="160" y1="1085" x2="185" y2="1092"/><line x1="150" y1="1100" x2="170" y2="1104"/>
    <line x1="160" y1="1115" x2="185" y2="1112"/><line x1="158" y1="1130" x2="180" y2="1128"/>
  </g>
</g>
<g id="cloud2">
  <use href="#c2" fill="url(#c2b)"/>
  <use href="#c2" fill="url(#c2t)" mask="url(#cmask)"/>
  <use href="#c2" fill="url(#dots)"/>
  <g stroke="#000" stroke-linecap="round" opacity="0.90"><line x1="527.0" y1="1098.8" x2="520.7" y2="1094.2" stroke-width="2.1"/><line x1="488.6" y1="1098.0" x2="472.2" y2="1091.5" stroke-width="2.4"/><line x1="503.9" y1="1074.2" x2="490.2" y2="1062.7" stroke-width="1.4"/><line x1="505.9" y1="1075.9" x2="496.5" y2="1072.3" stroke-width="1.6"/><line x1="523.3" y1="1046.2" x2="512.2" y2="1040.2" stroke-width="1.2"/><line x1="499.9" y1="1082.4" x2="488.3" y2="1078.9" stroke-width="2.5"/><line x1="527.3" y1="1103.3" x2="520.6" y2="1100.5" stroke-width="1.3"/><line x1="526.7" y1="1061.2" x2="520.0" y2="1057.7" stroke-width="2.4"/><line x1="529.1" y1="1060.5" x2="523.4" y2="1055.2" stroke-width="1.9"/><line x1="522.0" y1="1050.4" x2="516.6" y2="1046.5" stroke-width="1.8"/><line x1="484.3" y1="1101.3" x2="473.8" y2="1092.7" stroke-width="1.3"/><line x1="531.4" y1="1049.0" x2="517.0" y2="1041.2" stroke-width="1.6"/><line x1="513.2" y1="1100.6" x2="504.5" y2="1097.6" stroke-width="1.9"/><line x1="494.3" y1="1051.6" x2="486.7" y2="1049.3" stroke-width="1.5"/><line x1="498.7" y1="1063.3" x2="484.9" y2="1057.2" stroke-width="1.9"/><line x1="490.7" y1="1065.8" x2="484.9" y2="1063.4" stroke-width="1.2"/><line x1="524.0" y1="1078.1" x2="516.8" y2="1074.0" stroke-width="2.4"/><line x1="486.4" y1="1094.1" x2="476.7" y2="1088.6" stroke-width="2.3"/><line x1="503.6" y1="1075.4" x2="493.4" y2="1065.4" stroke-width="1.6"/><line x1="529.9" y1="1087.4" x2="517.8" y2="1081.2" stroke-width="1.7"/><line x1="483.3" y1="1052.8" x2="477.8" y2="1048.6" stroke-width="1.5"/><line x1="489.8" y1="1050.1" x2="477.7" y2="1039.5" stroke-width="2.1"/><line x1="496.9" y1="1059.5" x2="488.6" y2="1055.0" stroke-width="1.4"/><line x1="506.7" y1="1060.8" x2="494.2" y2="1048.6" stroke-width="1.9"/><line x1="494.7" y1="1102.9" x2="485.9" y2="1098.7" stroke-width="1.2"/><line x1="502.9" y1="1073.5" x2="491.7" y2="1069.2" stroke-width="1.9"/><line x1="480.3" y1="1060.9" x2="474.0" y2="1057.6" stroke-width="1.3"/><line x1="481.3" y1="1063.3" x2="473.9" y2="1058.5" stroke-width="1.9"/><line x1="525.0" y1="1084.5" x2="514.1" y2="1074.8" stroke-width="1.7"/><line x1="499.6" y1="1104.1" x2="493.3" y2="1099.4" stroke-width="2.0"/></g><g stroke="#000" stroke-linecap="round" opacity="0.90"><line x1="537.2" y1="1140.1" x2="530.6" y2="1131.1" stroke-width="2.2"/><line x1="575.6" y1="1119.2" x2="570.4" y2="1112.9" stroke-width="2.3"/><line x1="575.2" y1="1139.8" x2="571.1" y2="1132.2" stroke-width="2.1"/><line x1="569.7" y1="1121.9" x2="566.4" y2="1119.2" stroke-width="1.7"/><line x1="540.2" y1="1140.1" x2="535.2" y2="1133.2" stroke-width="2.0"/><line x1="569.0" y1="1129.7" x2="567.0" y2="1126.2" stroke-width="2.2"/><line x1="560.1" y1="1131.1" x2="552.7" y2="1125.5" stroke-width="2.2"/><line x1="547.6" y1="1117.2" x2="544.3" y2="1112.1" stroke-width="1.5"/><line x1="572.0" y1="1144.3" x2="566.5" y2="1138.5" stroke-width="1.8"/><line x1="569.2" y1="1138.0" x2="564.0" y2="1130.8" stroke-width="1.3"/><line x1="542.4" y1="1122.6" x2="535.2" y2="1115.7" stroke-width="1.9"/><line x1="535.6" y1="1116.8" x2="532.1" y2="1111.8" stroke-width="2.1"/><line x1="568.8" y1="1123.7" x2="563.4" y2="1117.6" stroke-width="1.8"/><line x1="540.9" y1="1141.8" x2="538.5" y2="1136.8" stroke-width="2.4"/><line x1="535.9" y1="1128.8" x2="531.3" y2="1119.3" stroke-width="1.8"/><line x1="548.4" y1="1121.3" x2="539.7" y2="1113.7" stroke-width="2.0"/><line x1="542.1" y1="1130.7" x2="533.1" y2="1123.4" stroke-width="2.3"/><line x1="560.4" y1="1141.6" x2="553.3" y2="1135.2" stroke-width="2.4"/></g><g stroke="#000" stroke-linecap="round" opacity="0.90"><line x1="499.6" y1="1050.5" x2="496.5" y2="1045.3" stroke-width="1.8"/><line x1="494.1" y1="1052.8" x2="489.0" y2="1045.7" stroke-width="2.3"/><line x1="485.1" y1="1065.0" x2="476.6" y2="1055.5" stroke-width="2.4"/><line x1="506.4" y1="1068.0" x2="501.8" y2="1061.1" stroke-width="1.7"/><line x1="515.0" y1="1061.8" x2="510.2" y2="1054.3" stroke-width="1.6"/><line x1="486.4" y1="1052.0" x2="478.9" y2="1041.8" stroke-width="2.4"/><line x1="492.5" y1="1055.3" x2="486.1" y2="1047.5" stroke-width="1.7"/><line x1="513.7" y1="1067.7" x2="508.2" y2="1056.5" stroke-width="2.4"/></g><g clip-path="url(#cc2)"><g fill="#101018" opacity="0.80"><rect x="635.3" y="1103.9" width="2.2" height="2.2"/><rect x="617.6" y="1064.0" width="2.2" height="2.2"/><rect x="618.6" y="1096.1" width="2.2" height="2.2"/><rect x="620.2" y="1111.6" width="2.2" height="2.2"/><rect x="582.9" y="1063.9" width="2.2" height="2.2"/><rect x="634.1" y="1070.2" width="2.2" height="2.2"/><rect x="597.8" y="1087.5" width="2.2" height="2.2"/><rect x="583.8" y="1119.1" width="2.2" height="2.2"/><rect x="638.1" y="1080.8" width="2.2" height="2.2"/><rect x="612.5" y="1084.1" width="2.2" height="2.2"/><rect x="604.6" y="1091.5" width="2.2" height="2.2"/><rect x="573.4" y="1072.9" width="2.2" height="2.2"/><rect x="576.6" y="1132.5" width="2.2" height="2.2"/><rect x="599.8" y="1077.6" width="2.2" height="2.2"/><rect x="632.5" y="1139.7" width="2.2" height="2.2"/><rect x="596.0" y="1071.2" width="2.2" height="2.2"/><rect x="575.4" y="1067.3" width="2.2" height="2.2"/><rect x="587.4" y="1067.3" width="2.2" height="2.2"/><rect x="579.1" y="1080.7" width="2.2" height="2.2"/><rect x="605.6" y="1131.0" width="2.2" height="2.2"/><rect x="620.0" y="1093.0" width="2.2" height="2.2"/><rect x="593.1" y="1101.9" width="2.2" height="2.2"/><rect x="590.1" y="1087.1" width="2.2" height="2.2"/><rect x="565.0" y="1082.2" width="2.2" height="2.2"/><rect x="637.4" y="1070.1" width="2.2" height="2.2"/><rect x="600.3" y="1110.4" width="2.2" height="2.2"/><rect x="629.0" y="1077.3" width="2.2" height="2.2"/><rect x="581.7" y="1079.9" width="2.2" height="2.2"/><rect x="592.0" y="1095.7" width="2.2" height="2.2"/><rect x="636.3" y="1127.9" width="2.2" height="2.2"/></g></g><rect x="462.0" y="1120.0" width="8.5" height="8.5" fill="#7a8a9a"/><rect x="470.0" y="1135.0" width="5.5" height="5.5" fill="#3a4a5a"/><rect x="480.0" y="1150.0" width="7.8" height="7.8" fill="#3a4a5a"/><rect x="560.0" y="1160.0" width="8.9" height="8.9" fill="#3a4a5a"/><rect x="570.0" y="1170.0" width="5.0" height="5.0" fill="#3a4a5a"/><rect x="545.0" y="1175.0" width="8.7" height="8.7" fill="#8a9070"/><rect x="520.0" y="1140.0" width="8.4" height="8.4" fill="#3a4a5a"/><rect x="535.0" y="1135.0" width="6.0" height="6.0" fill="#7a8a9a"/>
  <path d="M459,1125 Q462,1160 490,1178 L495,1172 Q470,1155 466,1125 Z" fill="#1a1a22"/>
  <polygon points="590,1000 586,1015 578,1016" fill="#000"/>
  <polygon points="640,987 662,1012 652,1018" fill="#000"/>
  <polygon points="548,1018 600,1034 598,1042 546,1026" fill="#6a7078"/>
  <polygon points="526,1025 596,1050 594,1058 524,1033" fill="#5a7aa0"/>
  <rect x="561" y="963" width="8" height="8" fill="#3a4a5a"/>
  <rect x="647" y="956" width="8" height="8" fill="#2a3a4a"/>
  <rect x="651" y="962" width="7" height="7" fill="#2a3a4a"/>
  <rect x="637" y="971" width="7" height="7" fill="#2a3a4a"/>
  <rect x="593" y="980" width="8" height="8" fill="#1e2a3a"/>
  <rect x="636" y="984" width="9" height="9" fill="#2a3a4a"/>
  <ellipse cx="597" cy="992" rx="7" ry="4" fill="#c8ecf8"/>
  <ellipse cx="613" cy="990" rx="4" ry="4" fill="#c8ecf8"/>
  <rect x="513" y="1010" width="7" height="7" fill="#8a9068"/>
  <rect x="512" y="1017" width="7" height="7" fill="#8a78a0"/>
  <rect x="522" y="1007" width="6" height="6" fill="#b8e0f0"/>
  <rect x="505" y="1028" width="8" height="8" fill="#8aa0b8"/>
  <rect x="485" y="1040" width="10" height="10" fill="#20242c"/>
  <rect x="500" y="1042" width="9" height="9" fill="#7a8898"/>
  <rect x="487" y="1062" width="10" height="10" fill="#6080a0"/>
  <path d="M612,1080 L622,1078 L628,1090 L618,1098 L610,1090 Z" fill="#222"/>
  <rect x="540" y="1136" width="30" height="8" fill="#606068"/>
  <g stroke="#000" stroke-width="2">
    <line x1="508" y1="1055" x2="525" y2="1068"/><line x1="498" y1="1072" x2="520" y2="1080"/>
    <line x1="490" y1="1090" x2="515" y2="1098"/><line x1="495" y1="1105" x2="525" y2="1100"/>
    <line x1="508" y1="1120" x2="530" y2="1112"/><line x1="560" y1="1118" x2="570" y2="1135"/>
    <line x1="575" y1="1130" x2="585" y2="1120"/><line x1="530" y1="1150" x2="548" y2="1158"/>
    <line x1="590" y1="1145" x2="580" y2="1170"/>
  </g>
</g>
<g id="cloud3">
  <use href="#c3" fill="url(#c3b)"/>
  <use href="#c3" fill="url(#c3t)" mask="url(#cmask)"/>
  <use href="#c3" fill="url(#dots)"/>
  <g stroke="#000" stroke-linecap="round" opacity="0.85"><line x1="780.7" y1="1062.2" x2="769.0" y2="1060.5" stroke-width="2.3"/><line x1="814.1" y1="1117.7" x2="803.0" y2="1116.3" stroke-width="2.2"/><line x1="765.1" y1="1060.1" x2="756.6" y2="1059.1" stroke-width="2.1"/><line x1="832.4" y1="1100.1" x2="824.6" y2="1097.6" stroke-width="2.2"/><line x1="772.0" y1="1074.0" x2="760.6" y2="1071.9" stroke-width="1.5"/><line x1="820.3" y1="1050.1" x2="813.5" y2="1045.3" stroke-width="1.6"/><line x1="787.1" y1="1117.2" x2="781.6" y2="1115.0" stroke-width="1.9"/><line x1="767.0" y1="1082.9" x2="757.9" y2="1081.9" stroke-width="1.5"/><line x1="826.9" y1="1101.8" x2="822.4" y2="1100.8" stroke-width="1.8"/><line x1="790.9" y1="1089.4" x2="782.4" y2="1085.2" stroke-width="1.7"/><line x1="792.7" y1="1050.5" x2="787.3" y2="1047.3" stroke-width="1.3"/><line x1="799.7" y1="1066.0" x2="789.8" y2="1064.1" stroke-width="1.8"/><line x1="783.6" y1="1121.1" x2="779.1" y2="1119.2" stroke-width="2.0"/><line x1="827.8" y1="1088.8" x2="816.5" y2="1087.5" stroke-width="2.0"/><line x1="829.5" y1="1054.3" x2="825.7" y2="1052.7" stroke-width="1.7"/><line x1="814.7" y1="1064.7" x2="807.9" y2="1061.4" stroke-width="1.6"/><line x1="772.9" y1="1056.3" x2="767.7" y2="1055.4" stroke-width="2.0"/><line x1="801.7" y1="1087.4" x2="795.9" y2="1084.5" stroke-width="2.3"/><line x1="833.9" y1="1085.4" x2="829.1" y2="1084.8" stroke-width="1.3"/><line x1="794.4" y1="1120.8" x2="786.9" y2="1116.9" stroke-width="1.7"/><line x1="818.8" y1="1074.7" x2="808.5" y2="1073.3" stroke-width="2.1"/><line x1="778.7" y1="1093.3" x2="771.4" y2="1091.4" stroke-width="2.2"/><line x1="798.2" y1="1100.5" x2="792.7" y2="1098.1" stroke-width="1.7"/><line x1="791.3" y1="1087.1" x2="780.9" y2="1085.9" stroke-width="1.5"/><line x1="769.4" y1="1098.4" x2="762.7" y2="1096.7" stroke-width="2.4"/><line x1="768.1" y1="1109.7" x2="760.0" y2="1104.6" stroke-width="1.6"/><line x1="815.5" y1="1097.6" x2="806.8" y2="1091.9" stroke-width="1.3"/><line x1="822.8" y1="1058.6" x2="813.6" y2="1055.4" stroke-width="2.2"/><line x1="820.3" y1="1123.1" x2="809.9" y2="1121.4" stroke-width="1.8"/><line x1="765.6" y1="1124.5" x2="759.8" y2="1121.7" stroke-width="1.4"/><line x1="781.5" y1="1118.9" x2="774.8" y2="1115.2" stroke-width="2.0"/><line x1="800.8" y1="1081.3" x2="795.8" y2="1079.8" stroke-width="2.0"/><line x1="798.7" y1="1093.6" x2="793.7" y2="1092.0" stroke-width="1.3"/><line x1="770.1" y1="1100.0" x2="764.7" y2="1098.3" stroke-width="2.5"/><line x1="833.0" y1="1063.9" x2="828.3" y2="1062.2" stroke-width="2.4"/></g><g clip-path="url(#cc3)"><g fill="#101018" opacity="0.80"><rect x="814.1" y="1123.1" width="2.2" height="2.2"/><rect x="846.4" y="1140.8" width="2.2" height="2.2"/><rect x="846.8" y="1103.5" width="2.2" height="2.2"/><rect x="816.8" y="1101.4" width="2.2" height="2.2"/><rect x="815.2" y="1100.8" width="2.2" height="2.2"/><rect x="826.4" y="1094.9" width="2.2" height="2.2"/><rect x="814.1" y="1102.5" width="2.2" height="2.2"/><rect x="854.5" y="1095.1" width="2.2" height="2.2"/><rect x="803.9" y="1100.1" width="2.2" height="2.2"/><rect x="814.8" y="1122.1" width="2.2" height="2.2"/><rect x="839.0" y="1088.0" width="2.2" height="2.2"/><rect x="827.8" y="1083.0" width="2.2" height="2.2"/><rect x="800.3" y="1150.6" width="2.2" height="2.2"/><rect x="813.9" y="1115.9" width="2.2" height="2.2"/><rect x="822.4" y="1150.2" width="2.2" height="2.2"/><rect x="814.0" y="1084.0" width="2.2" height="2.2"/><rect x="836.0" y="1146.2" width="2.2" height="2.2"/><rect x="811.6" y="1086.0" width="2.2" height="2.2"/><rect x="830.8" y="1094.2" width="2.2" height="2.2"/><rect x="836.2" y="1142.0" width="2.2" height="2.2"/><rect x="839.9" y="1080.5" width="2.2" height="2.2"/><rect x="838.2" y="1136.8" width="2.2" height="2.2"/><rect x="821.0" y="1083.0" width="2.2" height="2.2"/><rect x="820.4" y="1083.5" width="2.2" height="2.2"/><rect x="860.0" y="1083.1" width="2.2" height="2.2"/><rect x="843.9" y="1153.1" width="2.2" height="2.2"/><rect x="848.9" y="1145.5" width="2.2" height="2.2"/><rect x="824.5" y="1109.7" width="2.2" height="2.2"/><rect x="837.3" y="1086.2" width="2.2" height="2.2"/><rect x="801.9" y="1119.7" width="2.2" height="2.2"/></g></g><g stroke="#000" stroke-linecap="round" opacity="0.90"><line x1="829.5" y1="1002.2" x2="828.3" y2="988.3" stroke-width="1.4"/><line x1="831.0" y1="1009.6" x2="828.1" y2="1000.0" stroke-width="2.5"/><line x1="835.0" y1="1002.5" x2="834.7" y2="996.0" stroke-width="2.3"/><line x1="827.4" y1="990.5" x2="827.2" y2="976.9" stroke-width="2.0"/><line x1="826.7" y1="1002.1" x2="823.5" y2="987.1" stroke-width="1.4"/><line x1="818.4" y1="992.7" x2="815.5" y2="981.3" stroke-width="2.2"/><line x1="818.9" y1="991.6" x2="818.8" y2="984.1" stroke-width="1.7"/><line x1="832.2" y1="1017.8" x2="827.6" y2="1005.2" stroke-width="1.7"/></g><rect x="765.0" y="1050.0" width="5.6" height="5.6" fill="#5a6a7a"/><rect x="760.0" y="1070.0" width="8.7" height="8.7" fill="#7a8a9a"/><rect x="768.0" y="1085.0" width="6.5" height="6.5" fill="#5a6a7a"/><rect x="770.0" y="1100.0" width="6.2" height="6.2" fill="#7a8a9a"/><rect x="868.0" y="1070.0" width="8.9" height="8.9" fill="#3a4a5a"/><rect x="872.0" y="1085.0" width="6.3" height="6.3" fill="#8a8070"/><rect x="866.0" y="1100.0" width="8.7" height="8.7" fill="#3a4a5a"/><rect x="862.0" y="1125.0" width="5.3" height="5.3" fill="#b09890"/><rect x="850.0" y="1150.0" width="7.5" height="7.5" fill="#5a6a7a"/><rect x="760.0" y="1135.0" width="7.6" height="7.6" fill="#5a6a7a"/><rect x="752.0" y="1120.0" width="7.5" height="7.5" fill="#8a8070"/><path d="M742,1150 Q752,1180 790,1193 Q830,1200 858,1182 L852,1172 Q825,1186 795,1182 Q762,1172 752,1148 Z" fill="#16161e"/>
  <path d="M740,1140 Q745,1178 790,1192 Q830,1198 860,1178 L858,1172 Q825,1190 792,1184 Q752,1170 748,1140 Z" fill="#1a1a22"/>
  <path d="M760,1150 Q790,1170 840,1172 L840,1178 Q790,1176 758,1158 Z" fill="#2a2a32"/>
  <polygon points="832,1048 870,1060 868,1068 830,1056" fill="#606870"/>
  <polygon points="820,1040 840,1030 846,1040" fill="#000"/>
  <rect x="914" y="1016" width="22" height="24" fill="#c09838"/>
  <rect x="910" y="1044" width="16" height="20" fill="#c07040"/>
  <rect x="895" y="1067" width="10" height="10" fill="#c8a898"/>
  <rect x="928" y="970" width="8" height="8" fill="#2a3a4a"/>
  <rect x="918" y="984" width="8" height="8" fill="#2a3a4a"/>
  <rect x="916" y="997" width="10" height="14" fill="#1e2a3a"/>
  <rect x="873" y="992" width="7" height="7" fill="#2a3a4a"/>
  <rect x="843" y="975" width="8" height="8" fill="#2a3a4a"/>
  <ellipse cx="893" cy="1003" rx="5" ry="4" fill="#c8ecf8"/>
  <rect x="880" y="1098" width="16" height="7" fill="#202024"/>
  <rect x="763" y="1051" width="7" height="9" fill="#1e2228"/>
  <rect x="768" y="1065" width="8" height="10" fill="#8a9aa8"/>
  <polygon points="870,1040 910,1030 906,1038" fill="#000"/>
</g>
<g id="cloud4">
  <use href="#c4" fill="url(#c4b)"/>
  <use href="#c4" fill="url(#c4t)" mask="url(#cmask)"/>
  <use href="#c4" fill="url(#dots)"/>
  <g clip-path="url(#cc4)"><g fill="#101018" opacity="0.80"><rect x="1122.3" y="1143.0" width="2.2" height="2.2"/><rect x="1089.1" y="1100.3" width="2.2" height="2.2"/><rect x="1100.0" y="1121.3" width="2.2" height="2.2"/><rect x="1099.2" y="1093.6" width="2.2" height="2.2"/><rect x="1092.4" y="1135.7" width="2.2" height="2.2"/><rect x="1124.9" y="1087.9" width="2.2" height="2.2"/><rect x="1108.1" y="1138.0" width="2.2" height="2.2"/><rect x="1081.9" y="1143.7" width="2.2" height="2.2"/><rect x="1085.9" y="1127.0" width="2.2" height="2.2"/><rect x="1107.5" y="1128.9" width="2.2" height="2.2"/><rect x="1095.3" y="1114.4" width="2.2" height="2.2"/><rect x="1109.1" y="1114.8" width="2.2" height="2.2"/><rect x="1112.9" y="1116.3" width="2.2" height="2.2"/><rect x="1101.9" y="1086.6" width="2.2" height="2.2"/><rect x="1110.9" y="1119.3" width="2.2" height="2.2"/><rect x="1091.8" y="1138.4" width="2.2" height="2.2"/><rect x="1119.0" y="1117.1" width="2.2" height="2.2"/><rect x="1089.0" y="1118.1" width="2.2" height="2.2"/><rect x="1085.4" y="1094.0" width="2.2" height="2.2"/><rect x="1101.5" y="1091.4" width="2.2" height="2.2"/><rect x="1102.1" y="1120.7" width="2.2" height="2.2"/><rect x="1082.0" y="1129.6" width="2.2" height="2.2"/><rect x="1084.1" y="1136.3" width="2.2" height="2.2"/><rect x="1118.9" y="1120.8" width="2.2" height="2.2"/><rect x="1082.7" y="1120.3" width="2.2" height="2.2"/></g></g><g stroke="#000" stroke-linecap="round" opacity="0.90"><line x1="1117.6" y1="1028.0" x2="1116.0" y2="1018.5" stroke-width="2.5"/><line x1="1124.6" y1="1022.6" x2="1123.6" y2="1012.3" stroke-width="1.8"/><line x1="1129.1" y1="1026.6" x2="1127.2" y2="1016.9" stroke-width="2.4"/><line x1="1111.3" y1="1004.0" x2="1102.7" y2="989.3" stroke-width="2.4"/><line x1="1115.5" y1="1022.6" x2="1112.2" y2="1013.5" stroke-width="2.4"/><line x1="1114.2" y1="1000.5" x2="1108.1" y2="987.8" stroke-width="1.2"/></g><rect x="1140.0" y="1070.0" width="5.7" height="5.7" fill="#5a6a7a"/><rect x="1145.0" y="1085.0" width="7.5" height="7.5" fill="#9aaaba"/><rect x="1140.0" y="1100.0" width="7.7" height="7.7" fill="#3a4a5a"/><rect x="1138.0" y="1115.0" width="5.7" height="5.7" fill="#9aaaba"/><rect x="1130.0" y="1130.0" width="5.5" height="5.5" fill="#8a8070"/><rect x="1125.0" y="1140.0" width="5.2" height="5.2" fill="#9aaaba"/><rect x="1120.0" y="1160.0" width="8.9" height="8.9" fill="#3a4a5a"/><rect x="1075.0" y="1040.0" width="7.2" height="7.2" fill="#8a8070"/><rect x="1068.0" y="1055.0" width="7.8" height="7.8" fill="#7a8a9a"/><rect x="1060.0" y="1065.0" width="6.0" height="6.0" fill="#8a8070"/>
  <path d="M1108,1190 L1142,1172 L1138,1165 L1125,1162 L1100,1185 Z" fill="#2a2a2c"/>
  <polygon points="1100,1030 1160,1050 1158,1060 1098,1040" fill="#606a78"/>
  <polygon points="1129,978 1100,1020 1108,1022" fill="#000"/>
  <rect x="1182" y="1028" width="20" height="22" fill="#c09838"/>
  <rect x="1180" y="1053" width="15" height="18" fill="#c07040"/>
  <polygon points="1168,1040 1186,1068 1180,1072 1162,1046" fill="#2a3a4a"/>
  <rect x="1207" y="968" width="8" height="8" fill="#2a3a4a"/>
  <rect x="1213" y="975" width="7" height="7" fill="#2a3a4a"/>
  <rect x="1199" y="984" width="7" height="7" fill="#2a3a4a"/>
  <rect x="1197" y="997" width="12" height="12" fill="#2a3a4a"/>
  <rect x="1156" y="992" width="8" height="8" fill="#1e2a3a"/>
  <rect x="1125" y="975" width="7" height="7" fill="#2a3a4a"/>
  <ellipse cx="1160" cy="1004" rx="7" ry="4" fill="#c8ecf8"/>
  <ellipse cx="1177" cy="1003" rx="4" ry="4" fill="#c8ecf8"/>
  <rect x="1162" y="1100" width="16" height="7" fill="#202024"/>
  <rect x="1048" y="1052" width="8" height="9" fill="#1e2228"/>
</g>

<!-- ===== BOTTOM ===== -->
<g filter="url(#sh)"><rect x="105" y="862" width="1125" height="8" fill="#4472C4"/></g>
<g fill="none" stroke="#4472C4" stroke-width="5" filter="url(#sh)">
  <path d="M341,941 C372,905 425,882 468,930"/>
  <path d="M638,944 C676,906 745,890 784,942"/>
  <path d="M934,946 C970,910 1030,900 1066,942"/>
</g>
<g fill="#4472C4">
  <polygon points="482,945 459,938 475,923"/>
  <polygon points="798,956.5 775,949 791,934"/>
  <polygon points="1079,956.5 1056,949 1072,934"/>
</g>

<defs>
  <linearGradient id="nV" x1="0" y1="0" x2="1" y2="0">
    <stop offset="0" stop-color="#5a70ea"/><stop offset="0.5" stop-color="#8476ee"/><stop offset="1" stop-color="#b068d8"/>
  </linearGradient>
  <linearGradient id="nH" x1="0" y1="0" x2="1" y2="0">
    <stop offset="0" stop-color="#5a98a0"/><stop offset="0.45" stop-color="#7aa880"/><stop offset="1" stop-color="#a0a870"/>
  </linearGradient>
  <linearGradient id="nfade" x1="0" y1="0" x2="0" y2="1">
    <stop offset="0" stop-color="#fff"/><stop offset="0.1" stop-color="#e0e0e0"/><stop offset="0.32" stop-color="#606060"/><stop offset="0.55" stop-color="#000"/>
  </linearGradient>
  <linearGradient id="nmid" x1="0" y1="0" x2="1" y2="0">
    <stop offset="0" stop-color="#6a80e8" stop-opacity="0"/><stop offset="0.5" stop-color="#9090e0" stop-opacity="0.35"/><stop offset="1" stop-color="#c090d0" stop-opacity="0"/>
  </linearGradient>
  <linearGradient id="nlite" x1="0" y1="0" x2="0" y2="1">
    <stop offset="0.2" stop-color="#fff" stop-opacity="0"/><stop offset="0.45" stop-color="#fff" stop-opacity="0.14"/><stop offset="0.8" stop-color="#fff" stop-opacity="0"/>
  </linearGradient>
  <mask id="nmask" maskContentUnits="objectBoundingBox"><rect x="0" y="0" width="1" height="1" fill="url(#nfade)"/></mask>
</defs>
<!-- frames -->
<g>
  <rect x="117.5" y="1216.5" width="232.5" height="203.5" fill="#000" stroke="#4472C4" stroke-width="5"/>
  <defs><path id="s1" d="M230,1230.5 L347.5,1230.5 L347.5,1386 L340,1386 L340,1417.5 L314,1417.5 L284.5,1397 L172,1397 L172,1401 L145,1401 L139.8,1368 L137.7,1338 L145,1305 L152,1296 L171,1284 L190,1263 L204.8,1248 Z"/></defs><use href="#s1" fill="url(#nV)"/>
  <use href="#s1" fill="url(#nH)" mask="url(#nmask)"/><use href="#s1" fill="url(#nlite)"/>
  <rect x="324" y="1219" width="24" height="11.5" fill="#000"/>

  <rect x="401" y="1216.5" width="232.5" height="203.5" fill="#000" stroke="#4472C4" stroke-width="5"/>
  <defs><path id="s2" d="M472.9,1235.4 L608.3,1235.4 L612.3,1240.4 L620.4,1252.5 L629.5,1264.7 L630.5,1270 L630.5,1384 L622.4,1384 L622.4,1417 L594,1417 L580,1405 L458.7,1401 L450.6,1408 L450.6,1410.2 L422.3,1410.2 L422.3,1309 L424.4,1309 L438.5,1286.9 L450.6,1268.7 L460.7,1250.5 Z"/></defs><use href="#s2" fill="url(#nV)"/>
  <use href="#s2" fill="url(#nH)" mask="url(#nmask)"/><use href="#s2" fill="url(#nlite)"/>

  <rect x="683.5" y="1216.5" width="232.5" height="203.5" fill="#000" stroke="#4472C4" stroke-width="5"/>
  <defs><path id="s3" d="M756.9,1229.9 L851.9,1229.9 L874.1,1234.4 L881.2,1252.5 L889.3,1268.7 L898.4,1286.9 L904.4,1317.2 L904.4,1413.2 L872,1413.2 L867,1397 L734.7,1399 L732.7,1405 L706.4,1405 L706.4,1299 L713.5,1286.9 L718.5,1276.8 L728.6,1250.5 L732.7,1236.4 Z"/></defs><use href="#s3" fill="url(#nV)"/>
  <use href="#s3" fill="url(#nH)" mask="url(#nmask)"/><use href="#s3" fill="url(#nlite)"/>

  <rect x="968.3" y="1216.5" width="232" height="203.5" fill="#000" stroke="#4472C4" stroke-width="5"/>
  <defs><path id="s4" d="M1002.5,1233.3 L1125.8,1233.3 L1140,1240.4 L1146,1250.5 L1152,1276.8 L1165.2,1280.8 L1170.3,1295 L1178.4,1311.2 L1182.4,1333.4 L1182.4,1360 L1178.4,1417.3 L1150,1417.3 L1142,1402 L1016.7,1401 L1008.6,1410.2 L979.3,1410.2 L979.3,1284.9 L980.3,1268.7 L990.4,1248.5 Z"/></defs><use href="#s4" fill="url(#nV)"/>
  <use href="#s4" fill="url(#nH)" mask="url(#nmask)"/><use href="#s4" fill="url(#nlite)"/>
</g>

</svg>
</body></html>
